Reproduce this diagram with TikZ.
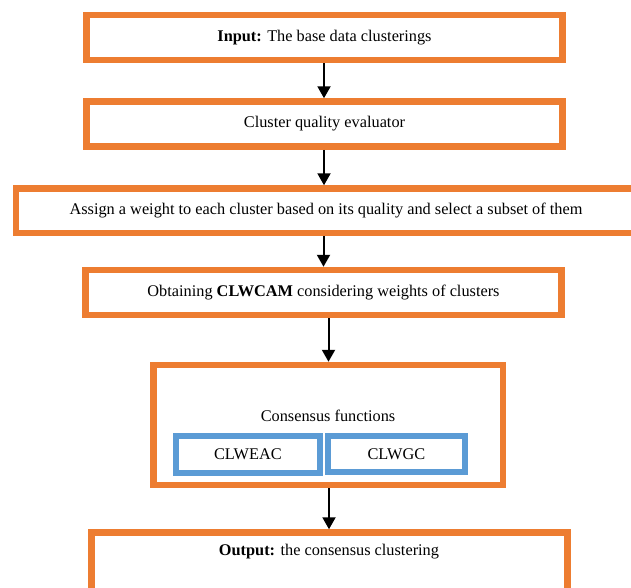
\documentclass[tikz,border=0pt]{standalone}
\usepackage{fontspec}
\setmainfont{Liberation Serif}
\usetikzlibrary{arrows.meta}
\definecolor{boxorange}{RGB}{237,125,49}
\definecolor{boxblue}{RGB}{91,155,213}
\begin{document}
\begin{tikzpicture}[x=1pt,y=-1pt,
  obox/.style={draw=boxorange,line width=6.5pt,rectangle,inner sep=0pt,
    font=\fontsize{16.3}{19}\selectfont},
  bbox/.style={draw=boxblue,line width=6pt,rectangle,inner sep=0pt,
    font=\fontsize{16.3}{19}\selectfont},
  txt/.style={inner sep=0pt,font=\fontsize{16.3}{19}\selectfont},
  arr/.style={line width=2pt,-{Triangle[width=13pt,length=12pt]}}]
\useasboundingbox (0,0) rectangle (631,587);
\node[obox,minimum width=476pt,minimum height=45pt] (b1) at (324.5,37.5)
  {\textbf{Input:} The base data clusterings};
\node[obox,minimum width=476pt,minimum height=45pt] (b2) at (324.5,124)
  {Cluster quality evaluator};
\node[obox,minimum width=620pt,minimum height=44.5pt] (b3) at (326,210.75)
  {Assign a weight to each cluster based on its quality and select a subset of them};
\node[obox,minimum width=476pt,minimum height=45pt] (b4) at (323.5,292.5)
  {Obtaining \textbf{CLWCAM} considering weights of clusters};
\node[obox,minimum width=349.3pt,minimum height=120pt] (b5) at (328.35,425) {};
\node[txt] (b5t) at (328,416) {Consensus functions};
\node[bbox,minimum width=143.7pt,minimum height=36.5pt] (c1) at (247.85,454.3) {CLWEAC};
\node[bbox,minimum width=136.2pt,minimum height=36pt] (c2) at (396.4,454) {CLWGC};
\node[obox,minimum width=476.2pt,minimum height=60pt] (b6) at (329.4,562.5) {};
\node[txt] (b6t) at (329,552) {\textbf{Output:} the consensus clustering};
\coordinate (xa) at (324,0);
\coordinate (xb) at (323.5,0);
\coordinate (xc) at (328.5,0);
\coordinate (xd) at (329,0);
\draw[arr] (b1.south -| xa) -- (b2.north -| xa);
\draw[arr] (b2.south -| xa) -- (b3.north -| xa);
\draw[arr] (b3.south -| xb) -- (b4.north -| xb);
\draw[arr] (b4.south -| xc) -- (b5.north -| xc);
\draw[arr] (b5.south -| xd) -- (b6.north -| xd);
\end{tikzpicture}
\end{document}
